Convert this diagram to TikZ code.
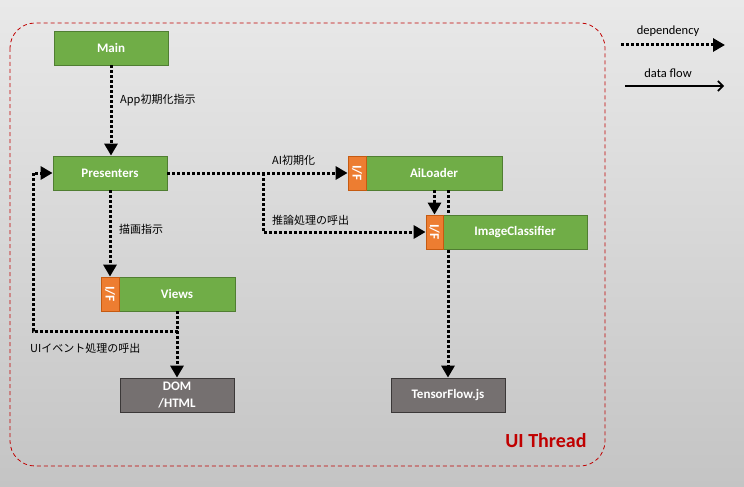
\documentclass[tikz,border=0pt]{standalone}
\usepackage{fontspec}
\setmainfont{Carlito}
\newfontfamily\jp{Noto Sans CJK JP}
\usetikzlibrary{arrows.meta}
\definecolor{leaf}{HTML}{70AD47}
\definecolor{leafline}{HTML}{507E32}
\definecolor{peel}{HTML}{ED7D31}
\definecolor{peelline}{HTML}{C55A11}
\definecolor{stone}{HTML}{757070}
\definecolor{stoneline}{HTML}{3B3838}
\definecolor{thread}{HTML}{C00000}
\definecolor{bgtop}{HTML}{E9E9E9}
\definecolor{bgbot}{HTML}{C4C4C4}
\tikzstyle{module}=[draw=leafline,fill=leaf,text=white,font=\bfseries\fontsize{13}{15}\selectfont,minimum height=34pt,inner sep=0pt,line width=0.8pt]
\tikzstyle{iface}=[draw=peelline,fill=peel,text=white,font=\bfseries\fontsize{13.5}{15}\selectfont,minimum width=34pt,inner sep=0pt,line width=0.8pt,rotate=-90]
\tikzstyle{extern}=[draw=stoneline,fill=stone,text=white,font=\bfseries\fontsize{13}{17}\selectfont,minimum height=34pt,minimum width=114pt,inner sep=0pt,line width=0.8pt,align=center]
\tikzstyle{dep}=[line width=3pt,dash pattern=on 3pt off 2pt,-{Triangle[length=12pt,width=13pt]}]
\tikzstyle{note}=[anchor=west,inner sep=0pt,font=\jp\fontsize{11}{13}\selectfont]

\begin{document}
\begin{tikzpicture}[x=1pt,y=-1pt]
  \shade[top color=bgtop,bottom color=bgbot] (0,0) rectangle (744,487);
  \useasboundingbox (0,0) rectangle (744,487);
  \draw[thread,line width=0.8pt,dash pattern=on 4pt off 3pt,rounded corners=25pt] (10,23) rectangle (605,466);
  \node[anchor=east,text=thread,font=\bfseries\fontsize{20}{22}\selectfont] (uithread) at (590,441) {UI Thread};

  % modules
  \foreach \place/\name/\w/\label in {{(111,48)/main/114/Main},
                                      {(110,173)/pres/114/Presenters},
                                      {(434,173)/ailoader/136/AiLoader},
                                      {(177,294)/views/116/Views}}
    \node[module,minimum width=\w pt] (\name) at \place {\label};
  \foreach \place/\name in {{(357,173)/ailif},
                            {(110,294)/viewsif}}
    \node[iface,minimum height=18pt] (\name) at \place {I/F};
  \node[extern] (dom) at (177,395) {DOM\\/HTML};
  \node[extern] (tf) at (448,395) {TensorFlow.js};

  % runs behind ImageClassifier
  \draw[dep] (tf.north |- ailoader.south) -- (tf.north);

  \node[module,minimum width=144pt] (imgcls) at (515,232) {ImageClassifier};
  \node[iface,minimum height=17pt] (imgif) at (434.5,232) {I/F};

  % dependencies
  \draw[dep] (main.south) -- (main.south |- pres.north);
  \draw[dep] (pres.east) -- (ailif.south);
  \coordinate (split) at (263,173);
  \draw[dep] (split) |- (imgif.south);
  \draw[dep] (imgif.west |- ailoader.south) -- (imgif.west);
  \draw[dep] (pres.south -| viewsif.west) -- (viewsif.west);
  \draw[dep] (views.south) -- (dom.north);
  \coordinate (evturn) at (178,331);
  \coordinate (evleft) at (33,331);
  \draw[dep] (evturn) -- (evleft) |- (pres.west);

  % labels
  \node[note] (appinit) at (120,100) {App初期化指示};
  \node[note] (aiinit) at (272,160) {AI初期化};
  \node[note] (infer) at (272,220) {推論処理の呼出};
  \node[note] (render) at (119,229) {描画指示};
  \node[note] (uievent) at (30,348) {UIイベント処理の呼出};

  % legend
  \node[font=\fontsize{12.5}{14}\selectfont] (deplabel) at (668,31) {dependency};
  \coordinate (depa) at (621,45);
  \coordinate (depb) at (725,45);
  \draw[dep] (depa) -- (depb);
  \node[font=\fontsize{12.5}{14}\selectfont] (flowlabel) at (668,73) {data flow};
  \coordinate (flowa) at (625,86);
  \coordinate (flowb) at (724,86);
  \draw[line width=1.6pt,-{Straight Barb[length=5pt,width=10pt]}] (flowa) -- (flowb);
\end{tikzpicture}
\end{document}
